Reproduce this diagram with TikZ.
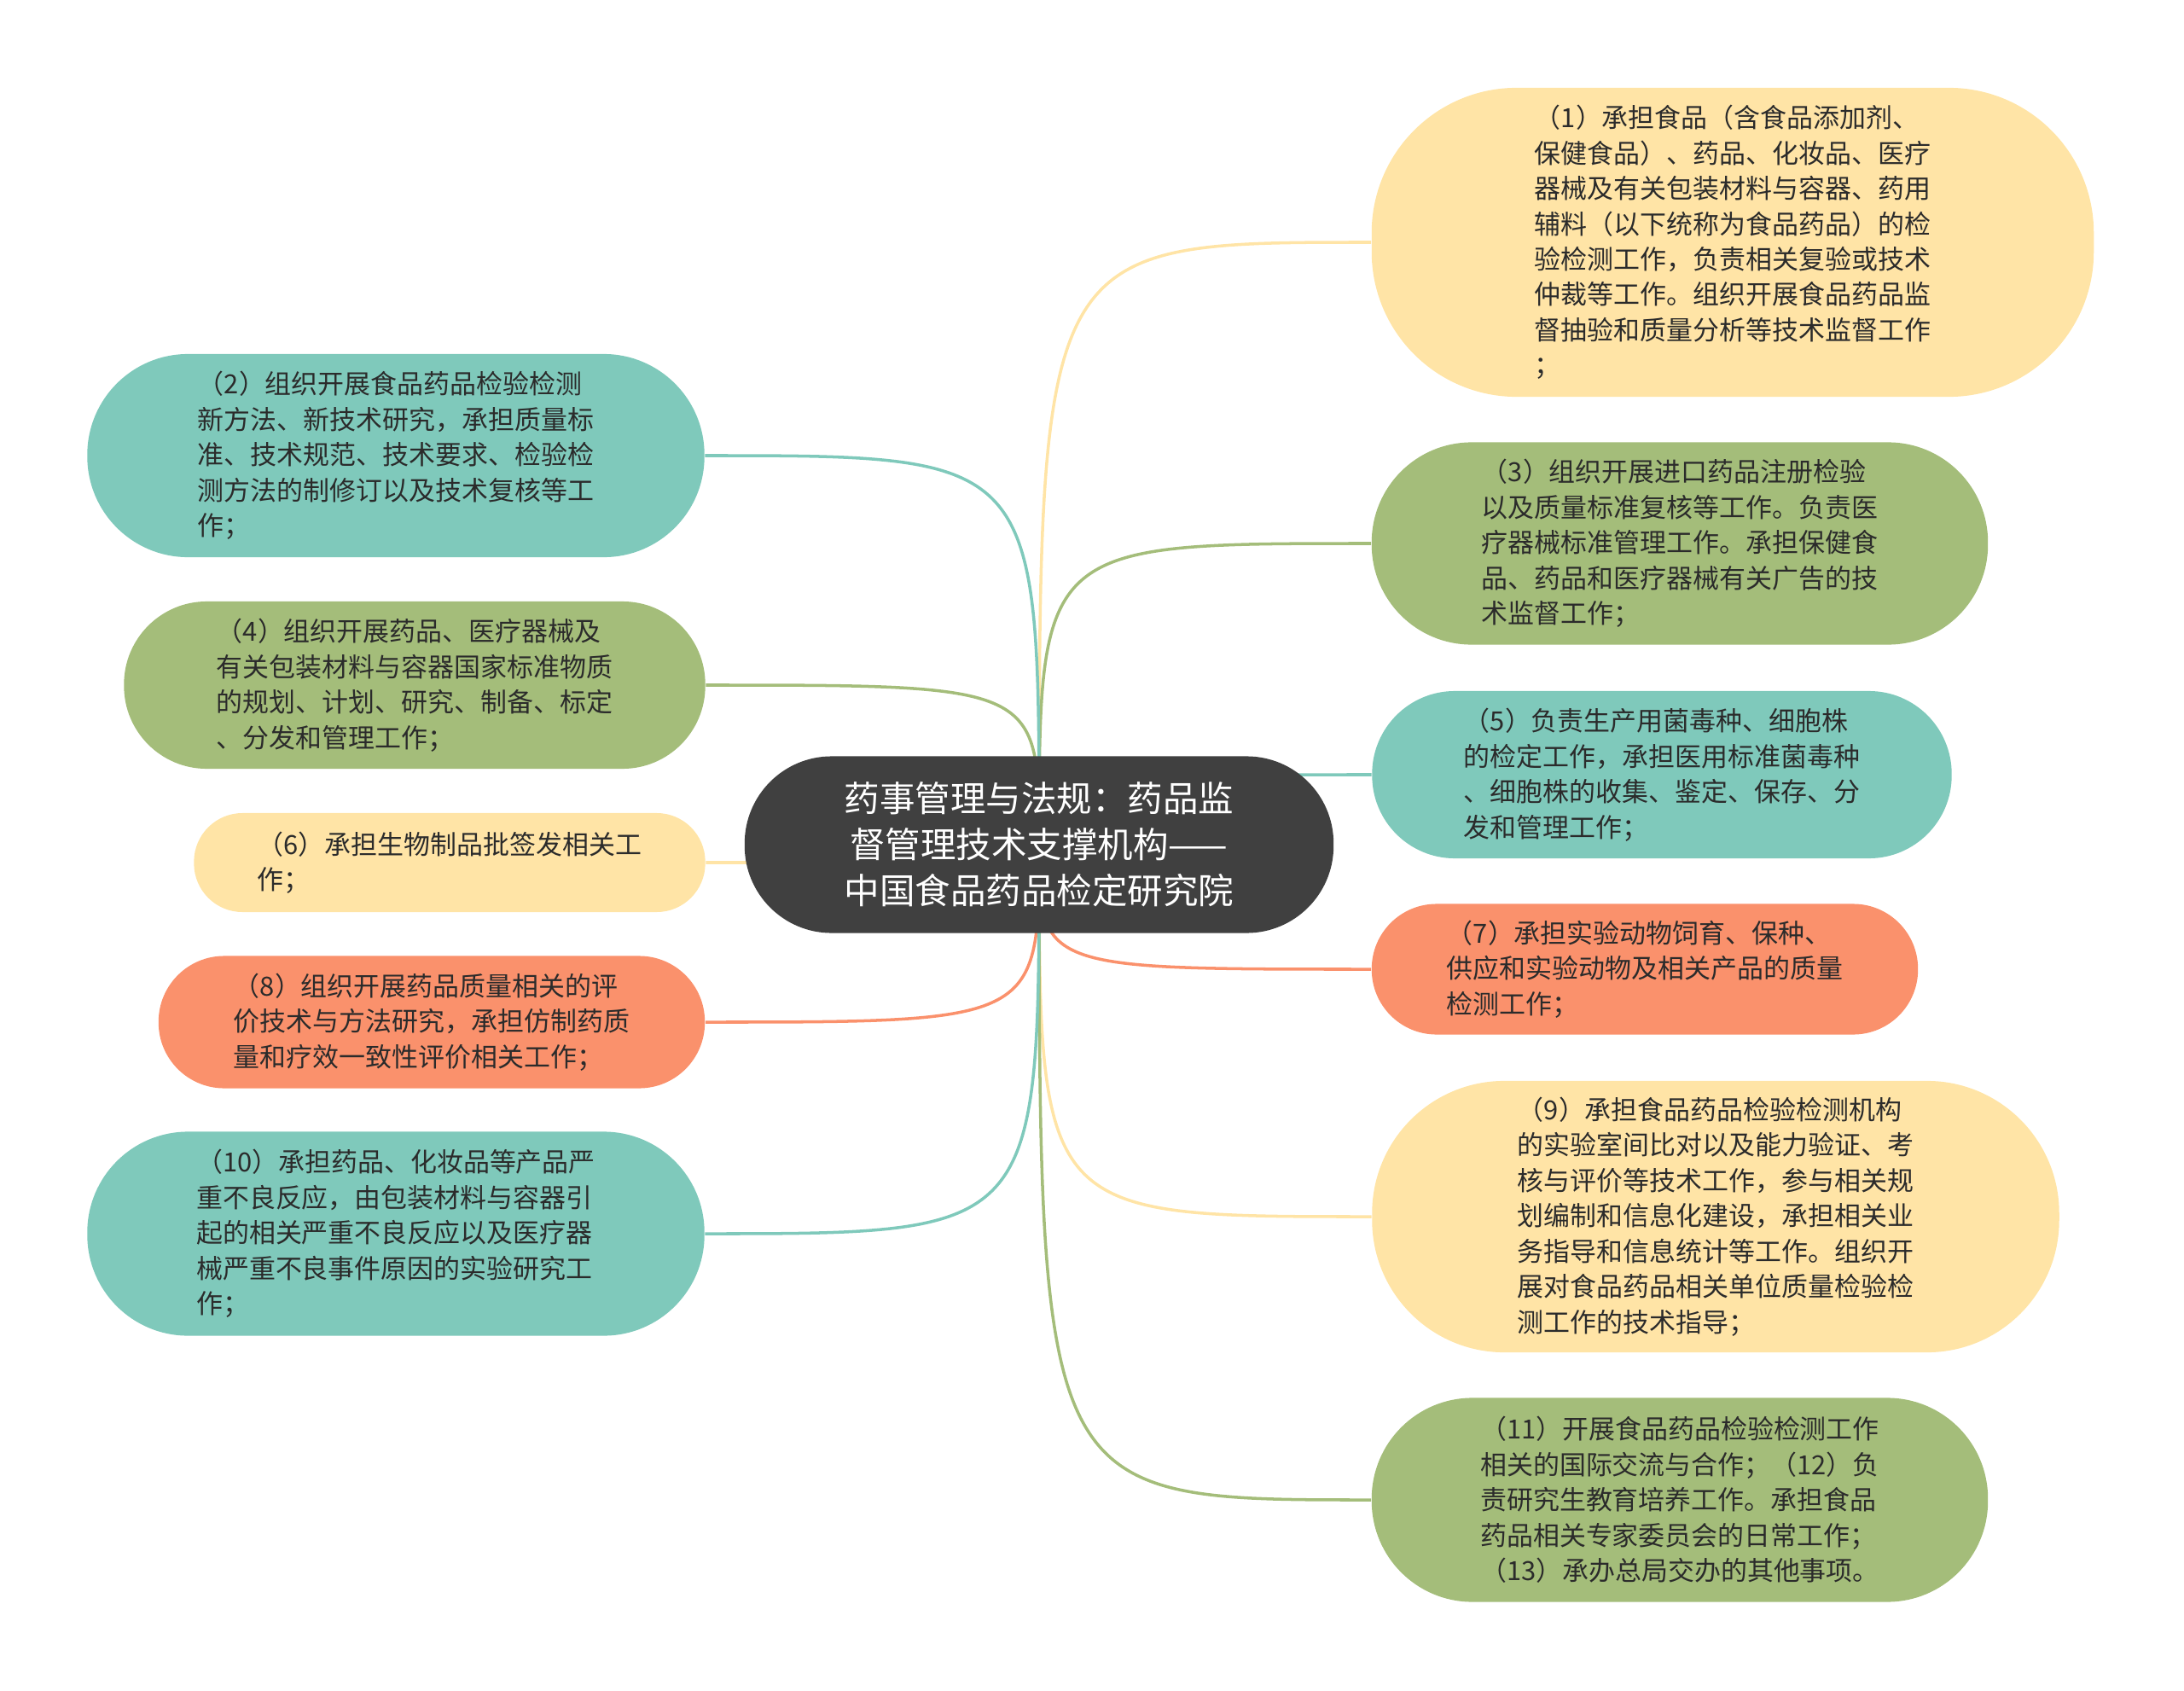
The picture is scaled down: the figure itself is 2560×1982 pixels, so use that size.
\documentclass[tikz,border=0pt]{standalone}
\usepackage{fontspec}
\usepackage{tikz}
\usetikzlibrary{backgrounds}
\newfontfamily\cjk{Noto Sans CJK SC}
\definecolor{yel}{HTML}{FFE4A6}
\definecolor{tea}{HTML}{7FC9BB}
\definecolor{grn}{HTML}{A4BD7A}
\definecolor{sal}{HTML}{FA916C}
\definecolor{hubc}{HTML}{404040}
\definecolor{txt}{HTML}{2B2B2B}
\tikzset{
 leaf/.style={fill=#1, text=txt, align=left, inner sep=0pt,
   font=\cjk\fontsize{8.8pt}{11.8pt}\selectfont},
 wire/.style={draw=#1, line width=1pt},
}

\begin{document}
\begin{tikzpicture}[x=0.01cm,y=-0.01cm]
\useasboundingbox (0,0) rectangle (2560,1982);

% centre
\node[fill=hubc, text=white, align=center, inner sep=0pt,
  minimum width=6.90cm, minimum height=2.07cm, rounded corners=1.02cm,
  font=\cjk\fontsize{11.8pt}{15.3pt}\selectfont] (hub) at (1218,990)
  {药事管理与法规：药品监\\督管理技术支撑机构——\\中国食品药品检定研究院};

% right side
\node[leaf=yel, minimum width=8.46cm, minimum height=3.62cm, rounded corners=1.7cm] (n1) at (2031,284)
  {（1）承担食品（含食品添加剂、\\保健食品）、药品、化妆品、医疗\\器械及有关包装材料与容器、药用\\辅料（以下统称为食品药品）的检\\验检测工作，负责相关复验或技术\\仲裁等工作。组织开展食品药品监\\督抽验和质量分析等技术监督工作\\；};
\node[leaf=grn, minimum width=7.22cm, minimum height=2.37cm, rounded corners=1.17cm] (n3) at (1969,637)
  {（3）组织开展进口药品注册检验\\以及质量标准复核等工作。负责医\\疗器械标准管理工作。承担保健食\\品、药品和医疗器械有关广告的技\\术监督工作；};
\node[leaf=tea, minimum width=6.79cm, minimum height=1.96cm, rounded corners=0.97cm] (n5) at (1948,908)
  {（5）负责生产用菌毒种、细胞株\\的检定工作，承担医用标准菌毒种\\、细胞株的收集、鉴定、保存、分\\发和管理工作；};
\node[leaf=sal, minimum width=6.40cm, minimum height=1.53cm, rounded corners=0.76cm] (n7) at (1928,1136)
  {（7）承担实验动物饲育、保种、\\供应和实验动物及相关产品的质量\\检测工作；};
\node[leaf=yel, minimum width=8.05cm, minimum height=3.18cm, rounded corners=1.55cm] (n9) at (2011,1426)
  {（9）承担食品药品检验检测机构\\的实验室间比对以及能力验证、考\\核与评价等技术工作，参与相关规\\划编制和信息化建设，承担相关业\\务指导和信息统计等工作。组织开\\展对食品药品相关单位质量检验检\\测工作的技术指导；};
\node[leaf=grn, minimum width=7.22cm, minimum height=2.39cm, rounded corners=1.18cm] (n11) at (1969,1758)
  {（11）开展食品药品检验检测工作\\相关的国际交流与合作；（12）负\\责研究生教育培养工作。承担食品\\药品相关专家委员会的日常工作；\\（13）承办总局交办的其他事项。};

% left side
\node[leaf=tea, minimum width=7.23cm, minimum height=2.38cm, rounded corners=1.18cm] (n2) at (464,534)
  {（2）组织开展食品药品检验检测\\新方法、新技术研究，承担质量标\\准、技术规范、技术要求、检验检\\测方法的制修订以及技术复核等工\\作；};
\node[leaf=grn, minimum width=6.81cm, minimum height=1.96cm, rounded corners=0.97cm] (n4) at (486,803)
  {（4）组织开展药品、医疗器械及\\有关包装材料与容器国家标准物质\\的规划、计划、研究、制备、标定\\、分发和管理工作；};
\node[leaf=yel, minimum width=5.99cm, minimum height=1.16cm, rounded corners=0.57cm] (n6) at (527,1011)
  {（6）承担生物制品批签发相关工\\作；};
\node[leaf=sal, minimum width=6.40cm, minimum height=1.55cm, rounded corners=0.77cm] (n8) at (506,1198)
  {（8）组织开展药品质量相关的评\\价技术与方法研究，承担仿制药质\\量和疗效一致性评价相关工作；};
\node[leaf=tea, minimum width=7.23cm, minimum height=2.39cm, rounded corners=1.18cm] (n10) at (464,1446)
  {（10）承担药品、化妆品等产品严\\重不良反应，由包装材料与容器引\\起的相关严重不良反应以及医疗器\\械严重不良事件原因的实验研究工\\作；};

% branches
\begin{scope}[on background layer]
\foreach \n/\c in {n1/yel,n3/grn,n5/tea,n7/sal,n9/yel,n11/grn}
  \draw[wire=\c] (hub.center) .. controls (hub.center |- \n.west) .. (\n.west);
\foreach \n/\c in {n2/tea,n4/grn,n6/yel,n8/sal,n10/tea}
  \draw[wire=\c] (hub.center) .. controls (hub.center |- \n.east) .. (\n.east);
\end{scope}
\end{tikzpicture}
\end{document}
